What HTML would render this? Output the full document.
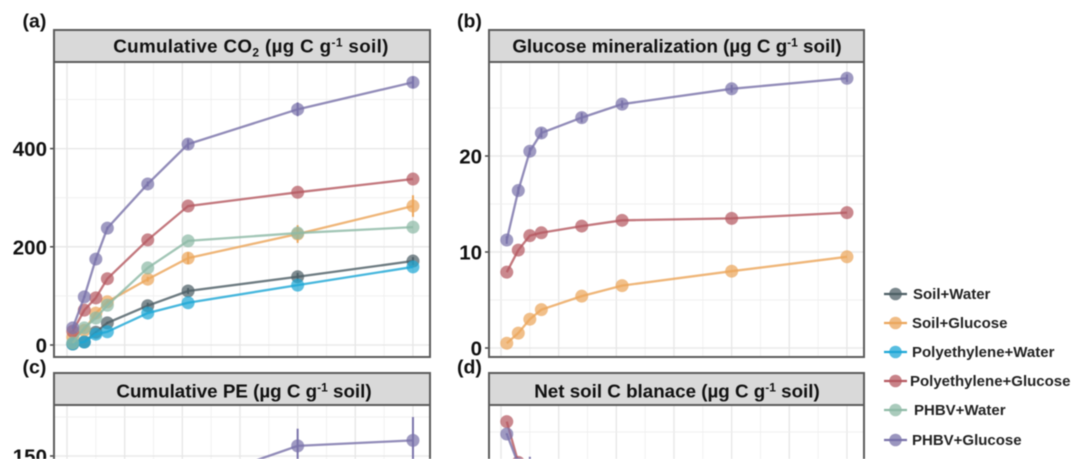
<!DOCTYPE html>
<html lang="en">
<head>
<meta charset="utf-8">
<title>Soil carbon charts</title>
<style>
html,body{margin:0;padding:0;background:#fff;width:1080px;height:459px;overflow:hidden}
svg{display:block;filter:blur(.6px)}
text{font-family:"Liberation Sans",Arial,sans-serif;font-weight:bold;fill:#111}
.title{font-size:18.8px;text-anchor:middle}
.tick{font-size:20.5px;text-anchor:end}
.tag{font-size:19.5px}
.leg{font-size:15px;fill:#222}
.strip{fill:#d9d9d9;stroke:#5c5c5c;stroke-width:2}
.frame{fill:none;stroke:#5c5c5c;stroke-width:2}
</style>
</head>
<body>
<svg id="chart" width="1080" height="459" viewBox="0 0 1080 459" xmlns="http://www.w3.org/2000/svg">
  <rect width="1080" height="459" fill="#fff"/>
  <defs>
    <clipPath id="clip-a"><rect x="54" y="62" width="376" height="295"/></clipPath>
    <clipPath id="clip-b"><rect x="489" y="62" width="375" height="295"/></clipPath>
    <clipPath id="clip-c"><rect x="54" y="405" width="376" height="54"/></clipPath>
    <clipPath id="clip-d"><rect x="489" y="405" width="375" height="54"/></clipPath>
  </defs>
  <g id="panel-a"></g>
  <g id="panel-b"></g>
  <g id="panel-c"></g>
  <g id="panel-d"></g>

  <rect class="strip" x="54" y="30" width="376" height="32"/>
  <rect class="strip" x="489" y="30" width="375" height="32"/>
  <rect class="strip" x="54" y="373" width="376" height="32"/>
  <rect class="strip" x="489" y="373" width="375" height="32"/>

  <text class="title" x="251" y="52.5" letter-spacing=".35">Cumulative CO<tspan dy="4" font-size="12">2</tspan><tspan dy="-4"> (µg C g</tspan><tspan dy="-6" font-size="12">-1</tspan><tspan dy="6"> soil)</tspan></text>
  <text class="title" x="677" y="52.5">Glucose mineralization (µg C g<tspan dy="-6" font-size="12">-1</tspan><tspan dy="6"> soil)</tspan></text>
  <text class="title" x="244" y="397.5">Cumulative PE (µg C g<tspan dy="-6" font-size="12">-1</tspan><tspan dy="6"> soil)</tspan></text>
  <text class="title" x="677" y="397.5">Net soil C blanace (µg C g<tspan dy="-6" font-size="12">-1</tspan><tspan dy="6"> soil)</tspan></text>

  <text class="tag" x="22.5" y="27.5">(a)</text>
  <text class="tag" x="457" y="27.5">(b)</text>
  <text class="tag" x="22.5" y="373.5">(c)</text>
  <text class="tag" x="457" y="373.5">(d)</text>

  <g id="legend">
    <g>
      <line x1="884" x2="907" y1="294" y2="294" stroke="#4e5f66" stroke-width="2.2"/><circle cx="895.5" cy="294" r="6.3" fill="#4e5f66" fill-opacity=".75"/>
      <text class="leg" x="913" y="298.8">Soil+Water</text>
    </g>
    <g>
      <line x1="884" x2="907" y1="323" y2="323" stroke="#eba65c" stroke-width="2.2"/><circle cx="895.5" cy="323" r="6.3" fill="#eba65c" fill-opacity=".75"/>
      <text class="leg" x="912" y="327.8">Soil+Glucose</text>
    </g>
    <g>
      <line x1="884" x2="907" y1="352" y2="352" stroke="#1fa7d6" stroke-width="2.2"/><circle cx="895.5" cy="352" r="6.3" fill="#1fa7d6" fill-opacity=".75"/>
      <text class="leg" x="912" y="356.8">Polyethylene+Water</text>
    </g>
    <g>
      <line x1="884" x2="907" y1="381" y2="381" stroke="#b65a62" stroke-width="2.2"/><circle cx="895.5" cy="381" r="6.3" fill="#b65a62" fill-opacity=".75"/>
      <text class="leg" x="910" y="385.8">Polyethylene+Glucose</text>
    </g>
    <g>
      <line x1="884" x2="907" y1="410" y2="410" stroke="#8ebaa6" stroke-width="2.2"/><circle cx="895.5" cy="410" r="6.3" fill="#8ebaa6" fill-opacity=".75"/>
      <text class="leg" x="914" y="414.8">PHBV+Water</text>
    </g>
    <g>
      <line x1="884" x2="907" y1="440" y2="440" stroke="#7a73aa" stroke-width="2.2"/><circle cx="895.5" cy="440" r="6.3" fill="#7a73aa" fill-opacity=".75"/>
      <text class="leg" x="912" y="444.8">PHBV+Glucose</text>
    </g>
  </g>
</svg>

<script>
// Sampling days
const days = [2, 6, 10, 14, 28, 42, 80, 120];

// Panel (a) Cumulative CO2
const aSoilWater = [2, 6, 26, 45, 80, 110, 139, 171];
const aSoilGlucose = [16, 30, 65, 88, 134, 177, 226, 283];
const aPolyWater = [2, 6, 22, 27, 65, 86, 122, 159];
const aPolyGlucose = [28, 71, 96, 135, 214, 283, 311, 338];
const aPhbvWater = [4, 35, 55, 81, 157, 212, 228, 240];
const aPhbvGlucose = [35, 98, 175, 238, 328, 409, 480, 535];
const aSoilGlucoseErr = [2, 2, 3, 3, 5, 12, 18, 22];
const aPhbvGlucoseErr = [2, 2, 3, 3, 5, 10, 14, 12];
const aSoilWaterErr = [1, 1, 2, 2, 6, 6, 8, 8];
const aTicks = [0, 200, 400];
const aMinorTicks = [100, 300, 500];

// Panel (b) Glucose mineralization
const bSoilGlucose = [0.5, 1.55, 3, 4, 5.4, 6.5, 8, 9.5];
const bPolyGlucose = [7.9, 10.2, 11.7, 12, 12.7, 13.3, 13.5, 14.1];
const bPhbvGlucose = [11.25, 16.4, 20.5, 22.4, 24, 25.4, 27, 28.1];
const bPhbvGlucoseErr = [0.4, 0.4, 0.4, 0.5, 0.5, 0.4, 0.4, 0.4];
const bTicks = [0, 10, 20];
const bMinorTicks = [5, 15, 25];

// Panel (c) Cumulative PE: only the points near the top of the crop can be read
const cPhbvGlucose = [null, null, null, null, null, 132, 156.5, 160];
const cPhbvGlucoseErr = [0, 0, 0, 0, 0, 8, 11, 15];
const cTicks = [150];
const cMinorTicks = [175];

// Panel (d) Net soil C balance: only the first points can be read
const dPolyGlucose = [13, -38, null, null, null, null, null, null];
const dPhbvGlucose = [-2.5, -40, -46, null, null, null, null, null];
const dPhbvGlucoseErr = [1, 2, 15, 0, 0, 0, 0, 0];
const dMinorTicks = [0];

const colorSoilWater = '#4e5f66';
const colorSoilGlucose = '#eba65c';
const colorPolyWater = '#1fa7d6';
const colorPolyGlucose = '#b65a62';
const colorPhbvWater = '#8ebaa6';
const colorPhbvGlucose = '#7a73aa';

const NS = 'http://www.w3.org/2000/svg';

function mk(tag, attrs, parent) {
  const el = document.createElementNS(NS, tag);
  for (const k in attrs) el.setAttribute(k, attrs[k]);
  parent.appendChild(el);
  return el;
}

function drawPanel(cfg) {
  const root = document.getElementById(cfg.id);
  const x = d => cfg.x0 + d * cfg.xk;
  const y = v => cfg.y0 - v * cfg.yk;

  const grid = mk('g', {}, root);
  
  
  for (let d = 0; d <= 120; d += 10) {
    const major = d % 20 === 0;
    const gl = mk('line', {x1: x(d), x2: x(d), y1: cfg.top, y2: cfg.bottom, stroke: major ? '#e6e6e6' : '#f1f1f1', 'stroke-width': major ? 1.3 : 1}, grid);
    
    
  }
  cfg.minor.concat(cfg.ticks).forEach(v => {
    const major = cfg.ticks.includes(v);
    const gl = mk('line', {x1: cfg.left, x2: cfg.right, y1: y(v), y2: y(v), stroke: major ? '#e6e6e6' : '#efefef', 'stroke-width': major ? 1.3 : 1}, grid);
    
    
  });

  const marks = mk('g', {'clip-path': 'url(#' + cfg.clip + ')'}, root);
  
  
  cfg.series.forEach(s => {
    const g = mk('g', {}, marks);
    
    
    const pts = s.values.map((v, i) => v === null ? null : x(days[i]) + ',' + y(v)).filter(p => p !== null).join(' ');
    const line = mk('polyline', {points: pts, fill: 'none', stroke: s.color, 'stroke-width': 2.3, 'stroke-opacity': .82}, g);
    
    
    s.values.forEach((v, i) => {
      if (v === null) return;
      const e = s.err ? s.err[i] : 0;
      if (e) {
        const bar = mk('line', {x1: x(days[i]), x2: x(days[i]), y1: y(v - e), y2: y(v + e), stroke: s.color, 'stroke-width': 2}, g);
        
        
      }
      const dot = mk('circle', {cx: x(days[i]), cy: y(v), r: 6.5, fill: s.color, 'fill-opacity': .72}, g);
      
      
    });
  });

  cfg.ticks.forEach(v => {
    const tm = mk('line', {x1: cfg.left - 4, x2: cfg.left, y1: y(v), y2: y(v), stroke: '#444', 'stroke-width': 1.5}, root);
    
    
    const t = mk('text', {class: 'tick', x: cfg.left - 7, y: y(v) + 7.5}, root);
    t.textContent = String(v);
    
    
  });

  const frame = mk('rect', {class: 'frame', x: cfg.left, y: cfg.top, width: cfg.right - cfg.left, height: cfg.bottom - cfg.top}, root);
  
  
}

drawPanel({
  id: 'panel-a', clip: 'clip-a', left: 54, right: 430, top: 62, bottom: 357,
  x0: 67, xk: 2.883, y0: 345, yk: 0.491, ticks: aTicks, minor: aMinorTicks,
  series: [
    {name: 'soil-water', color: colorSoilWater, values: aSoilWater, err: aSoilWaterErr},
    {name: 'soil-glucose', color: colorSoilGlucose, values: aSoilGlucose, err: aSoilGlucoseErr},
    {name: 'polyethylene-water', color: colorPolyWater, values: aPolyWater},
    {name: 'polyethylene-glucose', color: colorPolyGlucose, values: aPolyGlucose},
    {name: 'phbv-water', color: colorPhbvWater, values: aPhbvWater},
    {name: 'phbv-glucose', color: colorPhbvGlucose, values: aPhbvGlucose, err: aPhbvGlucoseErr}
  ]
});

drawPanel({
  id: 'panel-b', clip: 'clip-b', left: 489, right: 864, top: 62, bottom: 357,
  x0: 501, xk: 2.883, y0: 348, yk: 9.6, ticks: bTicks, minor: bMinorTicks,
  series: [
    {name: 'soil-glucose', color: colorSoilGlucose, values: bSoilGlucose},
    {name: 'polyethylene-glucose', color: colorPolyGlucose, values: bPolyGlucose},
    {name: 'phbv-glucose', color: colorPhbvGlucose, values: bPhbvGlucose, err: bPhbvGlucoseErr}
  ]
});

drawPanel({
  id: 'panel-c', clip: 'clip-c', left: 54, right: 430, top: 405, bottom: 480,
  x0: 67, xk: 2.883, y0: 690, yk: 1.56, ticks: cTicks, minor: cMinorTicks,
  series: [
    {name: 'phbv-glucose', color: colorPhbvGlucose, values: cPhbvGlucose, err: cPhbvGlucoseErr}
  ]
});

drawPanel({
  id: 'panel-d', clip: 'clip-d', left: 489, right: 864, top: 405, bottom: 480,
  x0: 501, xk: 2.883, y0: 432, yk: 0.8, ticks: [], minor: dMinorTicks,
  series: [
    {name: 'polyethylene-glucose', color: colorPolyGlucose, values: dPolyGlucose},
    {name: 'phbv-glucose', color: colorPhbvGlucose, values: dPhbvGlucose, err: dPhbvGlucoseErr}
  ]
});
</script>
</body>
</html>
